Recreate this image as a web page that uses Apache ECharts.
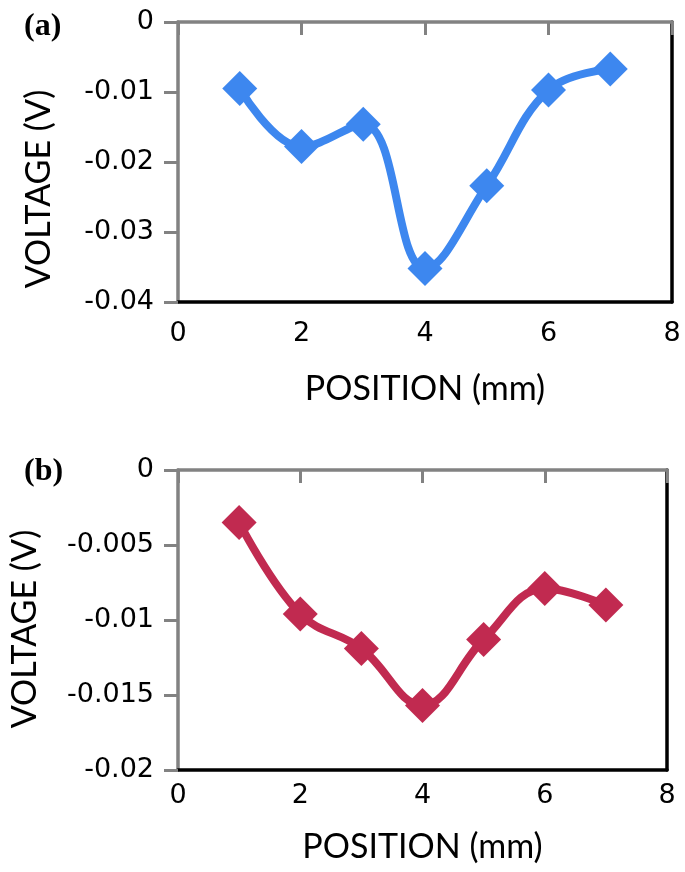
<!DOCTYPE html>
<html><head><meta charset="utf-8">
<script src="https://cdn.jsdelivr.net/npm/echarts@6/dist/echarts.min.js"></script>
<style>html,body{margin:0;padding:0;background:#fff}#c{width:685px;height:872px}</style>
</head><body><div id="c"></div>
<script>
const positions = [1, 2, 3, 4, 5, 6, 7];
const voltageA = [-0.0095, -0.0178, -0.0146, -0.0352, -0.0234, -0.0097, -0.0067];
const voltageB = [-0.0035, -0.0096, -0.0119, -0.0157, -0.0113, -0.0079, -0.0090];
const xRange = {min: 0, max: 8, interval: 2};
const yRangeA = {min: -0.04, max: 0, interval: 0.01};
const yRangeB = {min: -0.02, max: 0, interval: 0.005};
const xTitle = 'POSITION (mm)';
const yTitle = 'VOLTAGE (V)';
const panelLabels = ['(a)', '(b)'];
const colors = ['#3D87EF', '#C12A50'];

const GRAY = '#828282';
const tickFont = 'DejaVu Sans';
const titleFont = 'Lato';

function xAxes(g, labelMargin, nameGap) {
  return [
    {gridIndex: g, type: 'value', position: 'top', min: xRange.min, max: xRange.max, interval: xRange.interval,
     axisLine: {show: true, onZero: false, lineStyle: {color: GRAY, width: 3.5}},
     axisTick: {show: true, inside: true, length: 13, lineStyle: {color: GRAY, width: 3}},
     axisLabel: {show: false}, splitLine: {show: false}},
    {gridIndex: g, type: 'value', position: 'bottom', min: xRange.min, max: xRange.max, interval: xRange.interval,
     axisLine: {show: true, onZero: false, lineStyle: {color: '#000', width: 3.5}},
     axisTick: {show: false},
     axisLabel: {margin: labelMargin, fontSize: 27, fontFamily: tickFont, color: '#000'},
     splitLine: {show: false},
     name: xTitle, nameLocation: 'middle', nameGap: nameGap,
     nameTextStyle: {fontSize: 34, fontFamily: titleFont, color: '#000'}}
  ];
}
function yAxes(g, r, nameGap, shift) {
  return [
    {gridIndex: g, type: 'value', position: 'left', min: r.min, max: r.max, interval: r.interval,
     axisLine: {show: true, onZero: false, lineStyle: {color: GRAY, width: 3.5}},
     axisTick: {show: true, length: 14, lineStyle: {color: GRAY, width: 3}},
     axisLabel: {margin: 24, fontSize: 27, fontFamily: tickFont, color: '#000'},
     splitLine: {show: false},
     name: yTitle, nameLocation: 'middle', nameGap: nameGap, nameRotate: 90,
     nameTextStyle: {fontSize: 34, fontFamily: titleFont, color: '#000', padding: [0, shift, 0, 0]}},
    {gridIndex: g, type: 'value', position: 'right', min: r.min, max: r.max, interval: r.interval,
     axisLine: {show: true, onZero: false, lineStyle: {color: '#000', width: 3.5}},
     axisTick: {show: false}, axisLabel: {show: false}, splitLine: {show: false}}
  ];
}
function series(g, vals, color, xi, yi) {
  return {
    type: 'line', xAxisIndex: xi, yAxisIndex: yi,
    data: positions.map((p, i) => [p, vals[i]]),
    smooth: 0.4, symbol: 'diamond', symbolSize: 35,
    lineStyle: {color: color, width: 8}, itemStyle: {color: color},
    emphasis: {disabled: true}, animation: false
  };
}

const chart = echarts.init(document.getElementById('c'));
chart.setOption({
  backgroundColor: '#fff',
  animation: false,
  grid: [
    {left: 178, top: 22, width: 494, height: 280},
    {left: 177, top: 470, width: 490, height: 300}
  ],
  xAxis: [...xAxes(0, 18, 70), ...xAxes(1, 12, 60)],
  yAxis: [...yAxes(0, yRangeA, 122, 54), ...yAxes(1, yRangeB, 136, 18)],
  series: [
    series(0, voltageA, colors[0], 1, 0),
    series(1, voltageB, colors[1], 3, 2)
  ],
  graphic: [
    {type: 'text', left: 24, top: 11, style: {text: panelLabels[0], font: 'bold 32px "Liberation Serif"', fill: '#000'}},
    {type: 'text', left: 24, top: 456, style: {text: panelLabels[1], font: 'bold 32px "Liberation Serif"', fill: '#000'}}
  ]
});
</script></body></html>
